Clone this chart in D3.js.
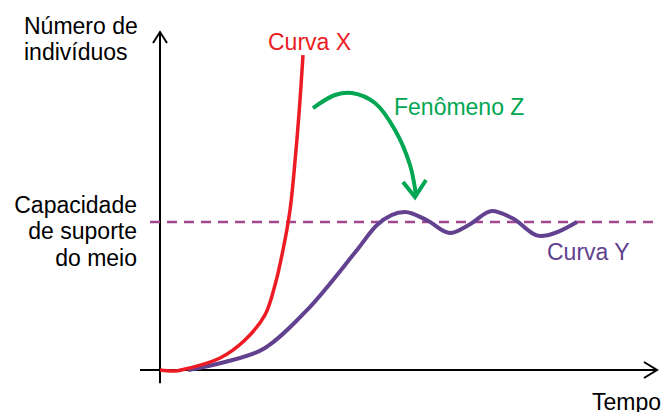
<!DOCTYPE html>
<meta charset="utf-8">
<script src="https://d3js.org/d3.v7.js"></script>
<style type="text/css">
  body { margin: 0; background: #fff; }
  text { font-family: "Liberation Sans", Arial, sans-serif; font-size: 23px; }
</style>
<div id="chart"></div>
<script>
// time (0-100) and population (capacity = 100)
var curveX_t = [0, 3, 6, 12, 17, 21, 23, 24.6, 26, 27.2, 28, 28.6];
var curveX_n = [0, -0.7, 1.4, 8.1, 20.3, 37.2, 57.4, 81.1, 108, 148.6, 182.4, 212.8];

var curveY_t = [5.6, 13, 21, 29.4, 39.4, 43.4, 49, 53.5, 58, 62, 66.4, 70.5, 76, 83.4];
var curveY_n = [0, 5.4, 14.9, 40.5, 81.1, 98, 106.8, 101, 92.6, 98.5, 107.4, 102.5, 90.5, 100];

var capacity = 100;

// fenomeno Z arrow path (same units)
var arrow_t = [30.6, 35, 38.4, 43, 47, 50, 51.2];
var arrow_n = [177, 185.8, 187.2, 180.4, 162.2, 138.5, 118.2];

var W = 664, H = 412;
var svg = d3.select("#chart").append("svg")
  .attr("width", W).attr("height", H);

var x = d3.scaleLinear().domain([0, 100]).range([160, 660]);
var y = d3.scaleLinear().domain([0, 100]).range([370, 222]);

function zip(a, b) { return a.map(function(d, i) { return [d, b[i]]; }); }

var line = d3.line()
  .x(function(d) { return x(d[0]); })
  .y(function(d) { return y(d[1]); })
  .curve(d3.curveCatmullRom.alpha(0.5));

var smooth = d3.line()
  .x(function(d) { return x(d[0]); })
  .y(function(d) { return y(d[1]); })
  .curve(d3.curveMonotoneX);

// axes
var ax = svg.append("g").attr("stroke", "#000").attr("stroke-width", 2).attr("fill", "none");
ax.append("line").attr("x1", x(0)).attr("x2", x(0)).attr("y1", y(-9)).attr("y2", 32);
ax.append("path").attr("d", "M" + (x(0) - 7) + ",43L" + x(0) + ",32L" + (x(0) + 7) + ",43");
ax.append("line").attr("x1", x(-4)).attr("x2", 657).attr("y1", y(0)).attr("y2", y(0));
ax.append("path").attr("d", "M644," + (y(0) - 8) + "L657," + y(0) + "L644," + (y(0) + 8));

// capacity line
svg.append("line")
  .attr("x1", x(-2)).attr("x2", x(99))
  .attr("y1", y(capacity)).attr("y2", y(capacity))
  .attr("stroke", "#a2468f").attr("stroke-width", 2.5)
  .attr("stroke-dasharray", "10,7");

// curve Y
svg.append("path")
  .datum(zip(curveY_t, curveY_n))
  .attr("d", smooth)
  .attr("fill", "none").attr("stroke", "#62418f").attr("stroke-width", 4);

// curve X
svg.append("path")
  .datum(zip(curveX_t, curveX_n))
  .attr("d", line)
  .attr("fill", "none").attr("stroke", "#ed1c24").attr("stroke-width", 3.5);

// fenomeno Z arrow
var green = "#00a651";
svg.append("path")
  .datum(zip(arrow_t, arrow_n))
  .attr("d", line)
  .attr("fill", "none").attr("stroke", green).attr("stroke-width", 4);
svg.append("path")
  .attr("d", "M403,182L415,197L426,180")
  .attr("fill", "none").attr("stroke", green).attr("stroke-width", 4);

// labels
svg.append("text").attr("x", 24).attr("y", 34).text("Número de");
svg.append("text").attr("x", 24).attr("y", 60).text("indivíduos");

var cap = svg.append("text").attr("text-anchor", "end");
cap.append("tspan").attr("x", 137).attr("y", 213).text("Capacidade");
cap.append("tspan").attr("x", 137).attr("y", 239).text("de suporte");
cap.append("tspan").attr("x", 137).attr("y", 266).text("do meio");

svg.append("text").attr("x", 268).attr("y", 50).attr("fill", "#ed1c24").text("Curva X");
svg.append("text").attr("x", 394).attr("y", 115).attr("fill", green).text("Fenômeno Z");
svg.append("text").attr("x", 547).attr("y", 260).attr("fill", "#62418f").text("Curva Y");
svg.append("text").attr("x", 592).attr("y", 410).text("Tempo");
</script>
